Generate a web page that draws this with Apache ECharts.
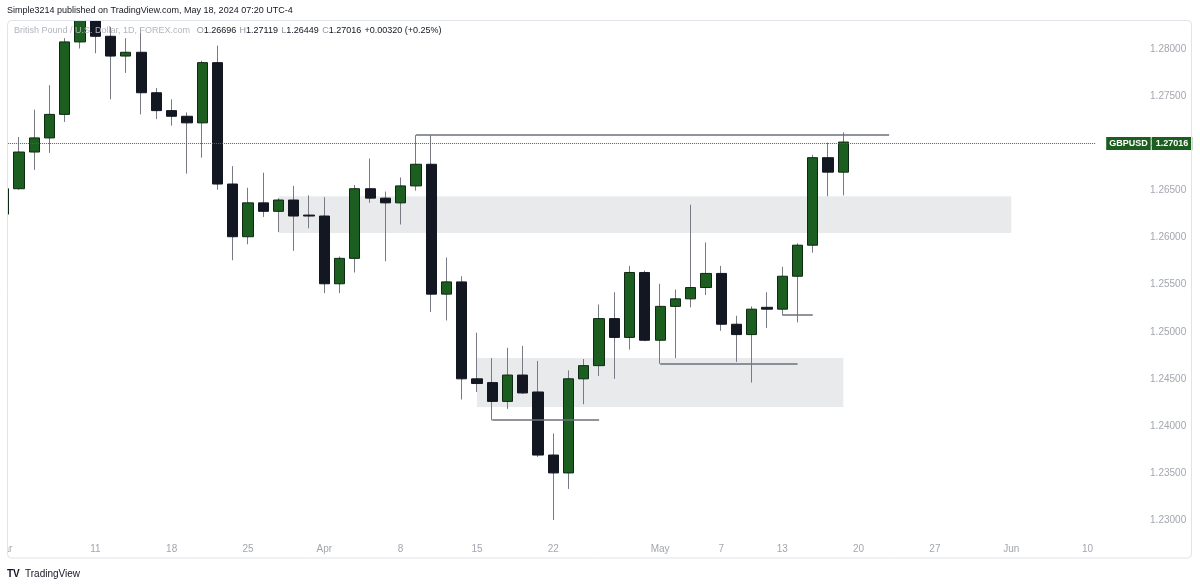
<!DOCTYPE html>
<html><head><meta charset="utf-8">
<script src="https://cdn.jsdelivr.net/npm/echarts@6.0.0/dist/echarts.min.js"></script>
<style>html,body{margin:0;padding:0;background:#fff}#c{width:1200px;height:586px}</style>
</head><body><div id="c"></div>
<script>
// ---- data ----
const candleDates = ['2024-03-01','2024-03-04','2024-03-05','2024-03-06','2024-03-07','2024-03-08',
 '2024-03-11','2024-03-12','2024-03-13','2024-03-14','2024-03-15','2024-03-18','2024-03-19','2024-03-20',
 '2024-03-21','2024-03-22','2024-03-25','2024-03-26','2024-03-27','2024-03-28','2024-03-29','2024-04-01',
 '2024-04-02','2024-04-03','2024-04-04','2024-04-05','2024-04-08','2024-04-09','2024-04-10','2024-04-11',
 '2024-04-12','2024-04-15','2024-04-16','2024-04-17','2024-04-18','2024-04-19','2024-04-22','2024-04-23',
 '2024-04-24','2024-04-25','2024-04-26','2024-04-29','2024-04-30','2024-05-01','2024-05-02','2024-05-03',
 '2024-05-06','2024-05-07','2024-05-08','2024-05-09','2024-05-10','2024-05-13','2024-05-14','2024-05-15',
 '2024-05-16','2024-05-17'];
const futureDates = ['2024-05-20','2024-05-21','2024-05-22','2024-05-23','2024-05-24','2024-05-27','2024-05-28',
 '2024-05-29','2024-05-30','2024-05-31','2024-06-03','2024-06-04','2024-06-05','2024-06-06','2024-06-07','2024-06-10'];
const opens = [1.2625,1.2652,1.2691,1.2706,1.2731,1.2808,1.2857,1.2814,1.2793,1.2797,1.2754,1.2735,1.2729,1.2722,
 1.2786,1.2657,1.2601,1.2637,1.2628,1.2640,1.2624,1.2623,1.2551,1.2578,1.2652,1.2642,1.2637,1.2655,1.2678,1.2540,
 1.2553,1.2450,1.2446,1.2426,1.2454,1.2436,1.2369,1.2350,1.2450,1.2464,1.2514,1.2494,1.2563,1.2491,1.2527,1.2535,
 1.2547,1.2562,1.2508,1.2497,1.2526,1.2524,1.2559,1.2592,1.2685,1.26696];
const highs = [1.2667,1.2707,1.2736,1.2762,1.2812,1.2893,1.2862,1.2824,1.2812,1.2823,1.2759,1.2747,1.2733,1.2788,
 1.2804,1.2676,1.2653,1.2669,1.2642,1.2655,1.2645,1.2643,1.2580,1.2656,1.2684,1.2649,1.2664,1.2709,1.2709,1.2579,
 1.2559,1.2499,1.2472,1.2483,1.2485,1.2469,1.2392,1.2459,1.2471,1.2529,1.2542,1.2570,1.2565,1.2551,1.2545,1.2635,
 1.2595,1.2570,1.2517,1.2527,1.2542,1.2569,1.2594,1.2688,1.2701,1.27119];
const lows = [1.2600,1.2651,1.2672,1.2690,1.2723,1.2801,1.2796,1.2747,1.2775,1.2731,1.2726,1.2719,1.2668,1.2685,
 1.2651,1.2576,1.2593,1.2622,1.2606,1.2586,1.2610,1.2541,1.2541,1.2563,1.2637,1.2575,1.2614,1.2650,1.2521,1.2512,
 1.2428,1.2436,1.2406,1.2418,1.2434,1.2367,1.2300,1.2333,1.2423,1.2453,1.2450,1.2481,1.2490,1.2466,1.2472,1.2526,
 1.2539,1.2501,1.2468,1.2446,1.2504,1.2518,1.2510,1.2584,1.2644,1.26449];
const closes = [1.2652,1.2691,1.2706,1.2731,1.2808,1.2857,1.2814,1.2793,1.2797,1.2754,1.2735,1.2729,1.2722,1.2786,
 1.2657,1.2601,1.2637,1.2628,1.2640,1.2623,1.2623,1.2551,1.2578,1.2652,1.2642,1.2637,1.2655,1.2678,1.2540,1.2553,
 1.2450,1.2445,1.2426,1.2454,1.2435,1.2369,1.2350,1.2450,1.2464,1.2514,1.2494,1.2563,1.2491,1.2527,1.2535,1.2547,
 1.2562,1.2508,1.2497,1.2524,1.2524,1.2559,1.2592,1.2685,1.26696,1.27016];
const tickDates = ['2024-03-01','2024-03-11','2024-03-18','2024-03-25','2024-04-01','2024-04-08','2024-04-15',
 '2024-04-22','2024-05-01','2024-05-07','2024-05-13','2024-05-20','2024-05-27','2024-06-03','2024-06-10'];
const tickTexts = ['Mar','11','18','25','Apr','8','15','22','May','7','13','20','27','Jun','10'];
const priceLabelStep = 0.005;
const zoneFrom = ['2024-03-27','2024-04-15'];
const zoneTo = ['2024-06-03','2024-05-17'];
const zoneTop = [1.2644, 1.2472];
const zoneBottom = [1.2605, 1.2420];
const levelFrom = ['2024-04-09','2024-04-16','2024-05-01','2024-05-13'];
const levelTo = ['2024-05-22','2024-04-25','2024-05-14','2024-05-15'];
const levelPrice = [1.2709, 1.2406, 1.2466, 1.2518];
const symbolName = 'GBPUSD';

// ---- build ----
const categories = candleDates.concat(futureDates);
const ohlc = opens.map((o, i) => [o, closes[i], lows[i], highs[i]]);
const bodies = opens.map((o, i) => [o, closes[i], Math.min(o, closes[i]), Math.max(o, closes[i])]);
const n = closes.length;
const lastClose = closes[n - 1];
const change = lastClose - closes[n - 2];
const pct = change / closes[n - 2] * 100;
const sgn = v => (v >= 0 ? '+' : '');

const FONT = '"Liberation Sans", Arial, sans-serif';
const GREEN = '#1b5e20', BLACK = '#131722', WICK = '#787b86';

const zoneData = zoneFrom.map((f, i) => [{coord: [f, zoneTop[i]]}, {coord: [zoneTo[i], zoneBottom[i]]}]);
const levelData = levelFrom.map((f, i) => [{coord: [f, levelPrice[i]]}, {coord: [levelTo[i], levelPrice[i]]}]);

const chart = echarts.init(document.getElementById('c'), null, {renderer: 'canvas'});
chart.setOption({
  animation: false,
  backgroundColor: '#ffffff',
  grid: {left: -3.88, right: 104.8, top: 20, bottom: 47.2, containLabel: false, outerBoundsMode: 'none'},
  xAxis: {
    type: 'category', data: categories, boundaryGap: true,
    axisLine: {show: false}, axisTick: {show: false}, splitLine: {show: false},
    axisLabel: {
      interval: (idx, val) => tickDates.indexOf(val) >= 0,
      formatter: val => { const k = tickDates.indexOf(val); return k >= 0 ? tickTexts[k] : ''; },
      color: '#a3a6af', fontSize: 10, fontFamily: FONT, margin: 5, hideOverlap: false
    }
  },
  yAxis: {
    type: 'value', position: 'right', min: 1.228, max: 1.28313, interval: 0.001, scale: true,
    axisLine: {show: false}, axisTick: {show: false}, splitLine: {show: false},
    axisLabel: {
      align: 'right', margin: 91, color: '#a3a6af', fontSize: 10, fontFamily: FONT,
      showMaxLabel: false,
      formatter: v => (Math.abs(v / priceLabelStep - Math.round(v / priceLabelStep)) < 1e-6 ? v.toFixed(5) : '')
    }
  },
  series: [
    {
      type: 'candlestick', name: 'wicks', data: ohlc, barWidth: '12%', z: 2, silent: true, clip: true,
      itemStyle: {color: WICK, color0: WICK, borderColor: WICK, borderColor0: WICK, borderWidth: 1},
      markArea: {
        silent: true, z: 1,
        itemStyle: {color: 'rgba(120,123,134,0.16)', borderWidth: 0},
        label: {show: false},
        data: zoneData
      }
    },
    {
      type: 'candlestick', name: 'bodies', data: bodies, barWidth: '70%', z: 3, silent: true, clip: true,
      itemStyle: {color: GREEN, color0: BLACK, borderColor: '#0f2a12', borderColor0: BLACK, borderWidth: 1},
      markLine: {
        silent: true, symbol: ['none', 'none'], z: 5,
        data: [
          {
            yAxis: lastClose,
            lineStyle: {color: '#2e7d32', type: 'dotted', width: 1},
            label: {
              show: true, position: 'end', distance: 11,
              formatter: '{n|' + symbolName + '}\u200a{v|' + lastClose.toFixed(5) + '}',
              rich: {
                n: {backgroundColor: GREEN, color: '#fff', fontSize: 9, fontWeight: 'bold', fontFamily: FONT, padding: [2, 3, 2, 3]},
                v: {backgroundColor: GREEN, color: '#fff', fontSize: 9, fontWeight: 'bold', fontFamily: FONT, padding: [2, 4, 2, 4]}
              }
            }
          }
        ].concat(levelData.map(seg => [
          Object.assign({}, seg[0], {lineStyle: {color: '#6d707b', width: 1.5, type: 'solid'}, label: {show: false}}),
          seg[1]
        ]))
      }
    }
  ],
  graphic: [
    {type: 'rect', z: 98, silent: true, shape: {x: 0, y: 0, width: 1200, height: 20}, style: {fill: '#ffffff'}},
    {type: 'rect', z: 99, silent: true, shape: {x: 0, y: 14, width: 7, height: 548}, style: {fill: '#ffffff'}},
    {type: 'rect', z: 100, silent: true, shape: {x: 7.5, y: 20.5, width: 1184, height: 537.5, r: 4},
      style: {fill: 'none', stroke: '#e0e3eb', lineWidth: 1}},
    {type: 'text', z: 101, silent: true, x: 7, y: 11,
      style: {text: 'Simple3214 published on TradingView.com, May 18, 2024 07:20 UTC-4', fill: '#131722',
        font: '9px ' + FONT, verticalAlign: 'middle'}},
    {type: 'text', z: 101, silent: true, x: 14, y: 31,
      style: {
        text: '{t|British Pound / U.S. Dollar, 1D, FOREX.com}  {k|O}{v|' + opens[n - 1].toFixed(5) + '} {k|H}{v|' +
          highs[n - 1].toFixed(5) + '} {k|L}{v|' + lows[n - 1].toFixed(5) + '} {k|C}{v|' + lastClose.toFixed(5) +
          '} {v|' + sgn(change) + change.toFixed(5) + ' (' + sgn(pct) + pct.toFixed(2) + '%)}',
        verticalAlign: 'middle',
        rich: {
          t: {fill: '#b2b5be', color: '#b2b5be', fontSize: 9, fontFamily: FONT},
          k: {fill: '#9598a1', color: '#9598a1', fontSize: 9, fontFamily: FONT},
          v: {fill: '#131722', color: '#131722', fontSize: 9, fontFamily: FONT}
        }
      }},
    {type: 'text', z: 101, silent: true, x: 7, y: 574,
      style: {text: 'TV', fill: '#131722', font: 'bold 10px ' + FONT, verticalAlign: 'middle'}},
    {type: 'text', z: 101, silent: true, x: 25, y: 574,
      style: {text: 'TradingView', fill: '#131722', font: '10px ' + FONT, verticalAlign: 'middle'}}
  ]
});
</script>
</body></html>
